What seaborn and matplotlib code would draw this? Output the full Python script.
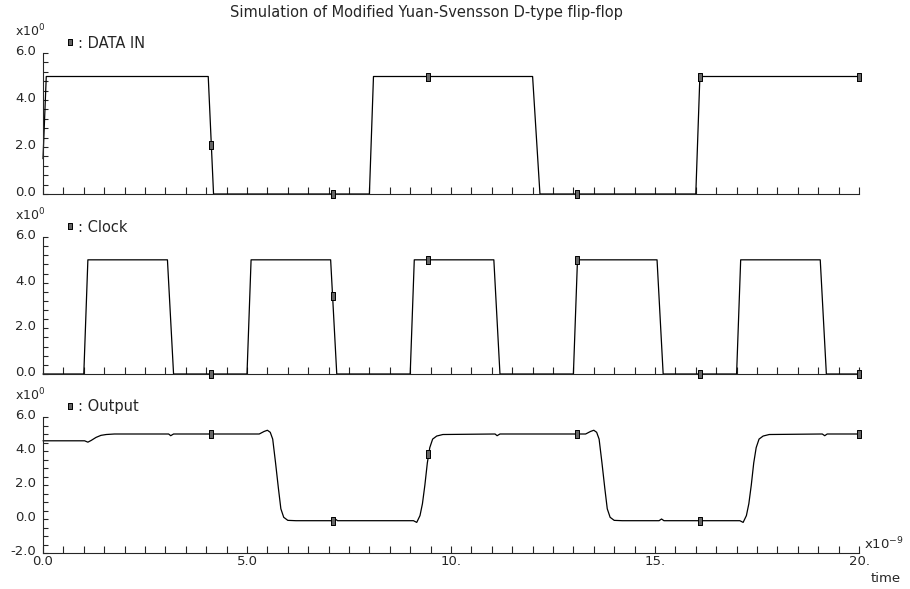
import matplotlib
matplotlib.use("Agg")
import matplotlib.pyplot as plt
import matplotlib.transforms as mtransforms
from matplotlib.lines import Line2D
from matplotlib.ticker import MultipleLocator, FixedLocator
import pandas as pd
import seaborn as sns

# ---------------- data ----------------
title = "Simulation of Modified Yuan-Svensson D-type flip-flop"
series_names = ["DATA IN", "Clock", "Output"]

data_t = [0.0, 0.08, 4.05, 4.18, 8.0, 8.1, 12.0, 12.18, 16.0, 16.1, 20.0]
data_v = [1.5, 5.0, 5.0, 0.0, 0.0, 5.0, 5.0, 0.0, 0.0, 5.0, 5.0]

clock_t = [0.0, 1.0, 1.1, 3.05, 3.2, 5.0, 5.1, 7.05, 7.2, 9.0, 9.1, 11.05, 11.2,
           13.0, 13.1, 15.05, 15.2, 17.0, 17.1, 19.05, 19.2, 20.0]
clock_v = [0.0, 0.0, 5.0, 5.0, 0.0, 0.0, 5.0, 5.0, 0.0, 0.0, 5.0, 5.0, 0.0,
           0.0, 5.0, 5.0, 0.0, 0.0, 5.0, 5.0, 0.0, 0.0]

out_t = [0.0, 1.02, 1.1, 1.18, 1.3, 1.42, 1.55, 1.75, 3.08, 3.13, 3.2,
         5.3, 5.42, 5.5, 5.57, 5.63, 5.7, 5.77, 5.83, 5.9, 6.0, 6.2, 7.1, 7.16, 7.22,
         9.08, 9.16, 9.24, 9.3, 9.36, 9.42, 9.48, 9.55, 9.65, 9.8, 11.08, 11.13, 11.2,
         13.3, 13.42, 13.5, 13.57, 13.63, 13.7, 13.77, 13.83, 13.9, 14.0, 14.2, 15.1, 15.16, 15.22,
         17.08, 17.16, 17.24, 17.3, 17.36, 17.42, 17.48, 17.55, 17.65, 17.8, 19.1, 19.16, 19.22, 20.0]
out_v = [4.6, 4.6, 4.52, 4.62, 4.8, 4.92, 4.97, 5.0, 5.0, 4.9, 5.0,
         5.0, 5.15, 5.22, 5.1, 4.7, 3.3, 1.8, 0.6, 0.1, -0.08, -0.1, -0.1, 0.0, -0.1,
         -0.1, -0.2, 0.2, 0.9, 2.0, 3.3, 4.2, 4.7, 4.88, 4.97, 5.0, 4.9, 5.0,
         5.0, 5.15, 5.22, 5.1, 4.7, 3.3, 1.8, 0.6, 0.1, -0.08, -0.1, -0.1, 0.0, -0.1,
         -0.1, -0.2, 0.2, 0.9, 2.0, 3.3, 4.2, 4.7, 4.88, 4.97, 5.0, 4.9, 5.0, 5.0]

marker_t = [4.12, 7.1, 9.44, 13.1, 16.1, 20.0]
data_mk = [2.1, 0.0, 5.0, 0.0, 5.0, 5.0]
clock_mk = [0.0, 3.4, 5.0, 5.0, 0.0, 0.0]
out_mk = [5.0, -0.1, 3.8, 5.0, -0.1, 5.0]

x_ticks = [0, 5, 10, 15, 20]
x_labels = ["0.0", "5.0", "10.", "15.", "20."]
y_ticks_top = [0, 2, 4, 6]
y_labels_top = ["0.0", "2.0", "4.0", "6.0"]
y_ticks_out = [-2, 0, 2, 4, 6]
y_labels_out = ["-2.0", "0.0", "2.0", "4.0", "6.0"]

# ---------------- style ----------------
sns.set_style("ticks")
plt.rcParams['font.family'] = ['DejaVu Sans']
plt.rcParams['font.size'] = 9
plt.rcParams['axes.linewidth'] = 0.8

W, H = 910, 589
fig = plt.figure(figsize=(W / 100, H / 100), dpi=100)

def add_ax(left, top, right, bottom):
    return fig.add_axes([left / W, 1 - bottom / H, (right - left) / W, (bottom - top) / H])

rect = [(-0.5, -1), (0.5, -1), (0.5, 1), (-0.5, 1), (-0.5, -1)]
lift = mtransforms.ScaledTranslation(0, 3 / 100, fig.dpi_scale_trans)

panels = [
    (series_names[0], data_t, data_v, data_mk, (53, 194), (0, 6), y_ticks_top, y_labels_top, 0.4),
    (series_names[1], clock_t, clock_v, clock_mk, (237, 374), (0, 6), y_ticks_top, y_labels_top, 0.4),
    (series_names[2], out_t, out_v, out_mk, (417, 553), (-2, 6), y_ticks_out, y_labels_out, 0.5),
]

for i, (name, t, v, mk, (top, bot), ylim, yt, yl, ystep) in enumerate(panels):
    ax = add_ax(43, top, 859, bot)
    df = pd.DataFrame({"t": t, "v": v})
    sns.lineplot(data=df, x="t", y="v", ax=ax, color="black", lw=0.9, sort=False,
                 estimator=None, clip_on=False)
    mdf = pd.DataFrame({"t": marker_t, "v": mk})
    ax.plot(mdf["t"], mdf["v"], ls="none", marker=rect, ms=5.5, mfc="#666666",
            mec="black", mew=0.7, clip_on=False, zorder=5)
    ax.set_xlim(0, 20)
    ax.set_ylim(*ylim)
    ax.set_xlabel("")
    ax.set_ylabel("")
    sns.despine(ax=ax)
    ax.xaxis.set_major_locator(FixedLocator(x_ticks))
    ax.xaxis.set_minor_locator(MultipleLocator(0.5))
    ax.yaxis.set_major_locator(FixedLocator(yt))
    ax.yaxis.set_minor_locator(MultipleLocator(ystep))
    ax.tick_params(axis="x", which="both", direction="in", length=5, width=0.8, pad=1.5)
    ax.tick_params(axis="y", which="both", direction="in", length=3.5, width=0.8, pad=5)
    ax.set_yticklabels(yl, fontsize=9.5)
    for lab in ax.get_yticklabels():
        lab.set_transform(lab.get_transform() + lift)
    if i == 2:
        ax.set_xticklabels(x_labels, fontsize=9.5)
    else:
        ax.set_xticklabels([])
    # exponent label above y axis
    fig.text(15 / W, 1 - (top - 17) / H, "x10$^{0}$", fontsize=9, va="baseline", ha="left")
    # legend
    handle = Line2D([], [], ls="none", marker=rect, ms=5, mfc="#666666", mec="black", mew=0.7)
    ax.legend([handle], [": " + name], loc="center left", frameon=False,
              bbox_to_anchor=(66 / W, 1 - (top - 10) / H), bbox_transform=fig.transFigure,
              handlelength=0.5, handletextpad=0.3, borderpad=0, borderaxespad=0,
              fontsize=10.5)

fig.text(864 / W, 1 - 549 / H, "x10$^{-9}$", fontsize=9.5, va="baseline", ha="left")
fig.text(886 / W, 1 - 582 / H, "time", fontsize=9.5, va="baseline", ha="center")
fig.text(426 / W, 1 - 13 / H, title, fontsize=10.5, ha="center", va="center")

fig.savefig("out.png", dpi=100)
